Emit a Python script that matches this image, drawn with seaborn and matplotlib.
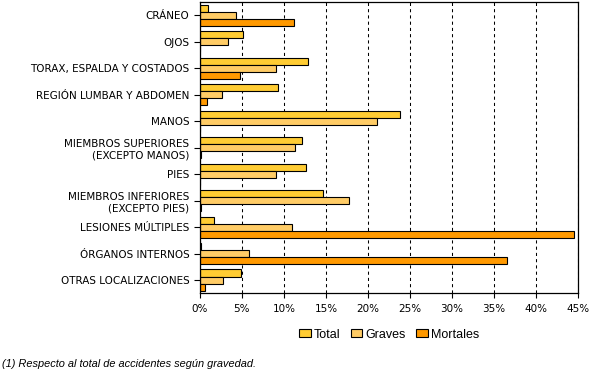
import matplotlib
matplotlib.use("Agg")
import matplotlib.pyplot as plt
import seaborn as sns
import pandas as pd
from matplotlib.patches import Patch

# Datos: % respecto al total de accidentes según gravedad
categorias = [
    "CRÁNEO",
    "OJOS",
    "TORAX, ESPALDA Y COSTADOS",
    "REGIÓN LUMBAR Y ABDOMEN",
    "MANOS",
    "MIEMBROS SUPERIORES\n(EXCEPTO MANOS)",
    "PIES",
    "MIEMBROS INFERIORES\n(EXCEPTO PIES)",
    "LESIONES MÚLTIPLES",
    "ÓRGANOS INTERNOS",
    "OTRAS LOCALIZACIONES",
]
total = [1.0, 5.2, 12.9, 9.25, 23.8, 12.2, 12.6, 14.7, 1.75, 0.2, 4.9]
graves = [4.25, 3.3, 9.1, 2.6, 21.1, 11.3, 9.1, 17.8, 11.0, 5.9, 2.8]
mortales = [11.15, 0.0, 4.8, 0.9, 0.0, 0.1, 0.0, 0.1, 44.5, 36.5, 0.65]
series = ["Total", "Graves", "Mortales"]
colores = ["#FFCC33", "#FFCC66", "#FF9900"]
xticks = [0, 5, 10, 15, 20, 25, 30, 35, 40, 45]

df = pd.DataFrame({
    "Localizacion": categorias * 3,
    "Tipo": [series[0]] * len(categorias) + [series[1]] * len(categorias) + [series[2]] * len(categorias),
    "Porcentaje": total + graves + mortales,
})

sns.set_style("white")
plt.rcParams["font.family"] = ["DejaVu Sans"]
plt.rcParams["text.color"] = "black"
plt.rcParams["xtick.labelcolor"] = "black"
plt.rcParams["ytick.labelcolor"] = "black"

fig = plt.figure(figsize=(5.91, 3.72), dpi=100)
ax = fig.add_axes([0.338, 0.2115, 0.6405, 0.783])

sns.barplot(data=df, y="Localizacion", x="Porcentaje", hue="Tipo",
            hue_order=series, palette=colores, orient="h", width=0.8,
            edgecolor="black", linewidth=0.8, saturation=1, ax=ax, legend=False)

ax.set_xlim(0, 45)
ax.set_xticks(xticks)
ax.set_xticklabels([f"{v}%" for v in xticks], fontsize=7.5, color="black")
ax.set_yticklabels(categorias, fontsize=7.5, color="black")
ax.set_xlabel("")
ax.set_ylabel("")
ax.set_axisbelow(True)
ax.xaxis.grid(True, color="black", linestyle=(0, (3, 3)), linewidth=0.75)
ax.yaxis.grid(False)
for s in ax.spines.values():
    s.set_visible(True)
    s.set_color("black")
    s.set_linewidth(0.9)
ax.tick_params(axis="x", direction="out", length=3.5, width=0.8, color="black", pad=4)
ax.tick_params(axis="y", direction="out", length=4.5, width=0.8, color="black", pad=3)
ax.tick_params(bottom=True, left=True)

handles = [Patch(facecolor=c, edgecolor="black", linewidth=0.8) for c in colores]
leg = ax.legend(handles, series, loc="center", bbox_to_anchor=(0.5, -0.142), ncol=3,
                frameon=False, prop={"family": "Liberation Sans", "size": 9},
                handlelength=0.95, handleheight=0.65, handletextpad=0.25,
                columnspacing=0.8, borderpad=0)
for t in leg.get_texts():
    t.set_color("black")

fig.text(0.004, 0.014, "(1) Respecto al total de accidentes según gravedad.",
         family="Liberation Sans", style="italic", fontsize=7.9, va="baseline",
         color="black")

fig.savefig("out.png", dpi=100)
